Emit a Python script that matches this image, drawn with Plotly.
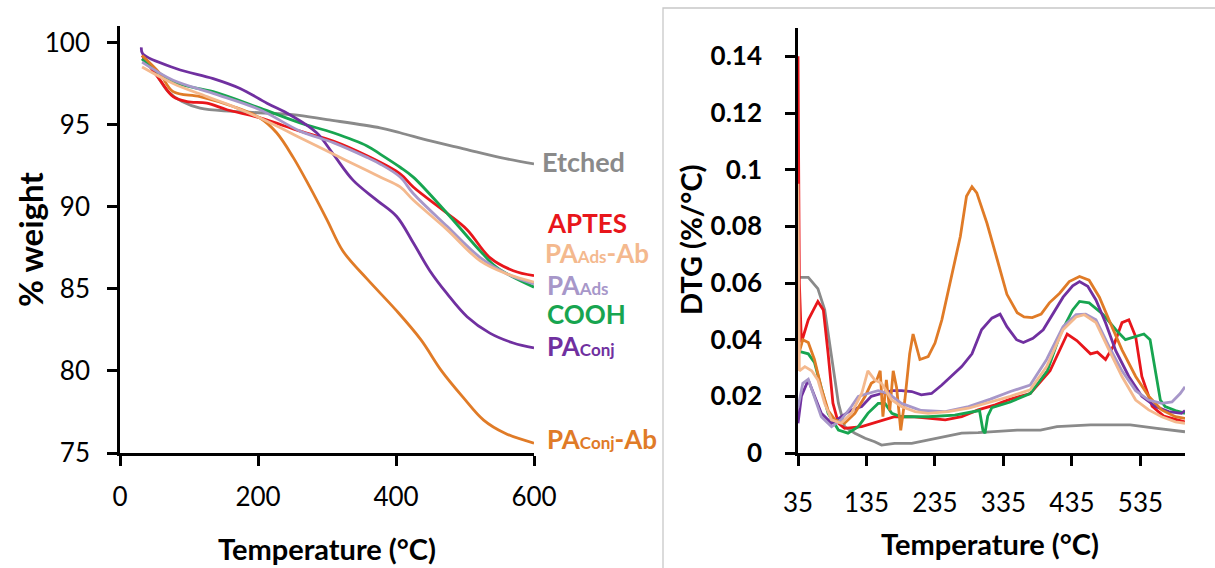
import plotly.graph_objects as go

W, H = 1215, 568
FONT = "Lato"

# ---------------- TGA (% weight vs temperature) ----------------
tga_etched_t = [32, 50, 70, 90, 116, 164, 250, 300, 377, 406, 450, 500, 550, 600]
tga_etched_w = [99.0, 98.2, 97.0, 96.4, 96.0, 95.8, 95.6, 95.3, 94.8, 94.5, 94.0, 93.5, 93.0, 92.6]

tga_aptes_t = [32, 58, 77, 97, 126, 155, 203, 261, 309, 358, 406, 425, 474, 503, 536, 570, 600]
tga_aptes_w = [99.2, 97.7, 96.7, 96.4, 96.3, 95.9, 95.4, 94.6, 94.0, 93.1, 92.0, 91.2, 89.6, 88.6, 86.9, 86.1, 85.8]

tga_cooh_t = [32, 77, 135, 203, 261, 309, 358, 377, 406, 425, 474, 522, 546, 600]
tga_cooh_w = [99.0, 97.6, 97.0, 96.0, 95.1, 94.5, 93.7, 93.2, 92.4, 91.8, 89.6, 87.3, 86.3, 85.1]

tga_paads_t = [32, 77, 135, 203, 261, 309, 358, 377, 406, 425, 474, 522, 561, 600]
tga_paads_w = [98.8, 97.7, 96.9, 95.9, 94.6, 93.9, 93.0, 92.6, 91.8, 90.8, 88.8, 86.9, 85.9, 85.3]

tga_paadsab_t = [32, 77, 126, 164, 213, 261, 309, 358, 377, 406, 425, 474, 522, 561, 600]
tga_paadsab_w = [98.5, 97.5, 96.7, 96.1, 95.2, 94.2, 93.2, 92.2, 91.8, 91.2, 90.4, 88.6, 86.7, 85.9, 85.4]

tga_paconj_t = [31, 33, 82, 135, 174, 213, 246, 285, 309, 338, 372, 401, 425, 449, 474, 503, 536, 570, 600]
tga_paconj_w = [99.7, 99.3, 98.4, 97.8, 97.2, 96.3, 95.6, 94.5, 93.2, 91.6, 90.4, 89.4, 87.8, 86.1, 84.7, 83.3, 82.3, 81.7, 81.4]

tga_paconjab_t = [32, 58, 77, 116, 164, 203, 227, 251, 275, 300, 323, 358, 400, 436, 466, 497, 527, 558, 600]
tga_paconjab_w = [99.2, 98.1, 97.0, 96.7, 96.1, 95.4, 94.5, 93.0, 91.2, 89.2, 87.3, 85.6, 83.7, 81.9, 80.0, 78.4, 77.0, 76.2, 75.6]

# ---------------- DTG (%/°C vs temperature) ----------------
dtg_etched_t = [35, 50, 64, 74, 84, 94, 103, 118, 133, 147, 157, 176, 201, 225, 250, 274, 298, 323,
                355, 389, 413, 462, 520, 559, 600]
dtg_etched_v = [0.062, 0.062, 0.058, 0.0505, 0.034, 0.0176, 0.0093, 0.007, 0.0052, 0.004, 0.0028, 0.0034,
                0.0034, 0.0046, 0.0058, 0.007, 0.0072, 0.0075, 0.0081, 0.0081, 0.0093, 0.0099, 0.0099,
                0.0087, 0.0075]

dtg_aptes_t = [35, 37, 40, 50, 64, 72, 79, 86, 94, 103, 128, 152, 176, 201, 225, 250, 274, 298, 323, 345,
               374, 403, 428, 442, 462, 472, 484, 496, 508, 518, 528, 537, 552, 569, 589, 600]
dtg_aptes_v = [0.14, 0.06, 0.039, 0.047, 0.0535, 0.0505, 0.035, 0.0176, 0.0105, 0.0087, 0.0093, 0.011,
               0.0128, 0.0128, 0.0122, 0.0117, 0.0128, 0.0152, 0.017, 0.019, 0.021, 0.029, 0.042, 0.0397,
               0.035, 0.0356, 0.033, 0.038, 0.046, 0.047, 0.041, 0.027, 0.0165, 0.013, 0.0117, 0.011]

dtg_cooh_t = [35, 50, 59, 69, 79, 94, 108, 123, 137, 152, 162, 172, 186, 225, 264, 300, 305, 308, 312,
              318, 345, 374, 399, 418, 436, 446, 460, 480, 499, 513, 528, 540, 549, 557, 564, 571, 586, 600]
dtg_cooh_v = [0.036, 0.035, 0.032, 0.023, 0.014, 0.0081, 0.007, 0.0093, 0.014, 0.0175, 0.0175, 0.014,
              0.0128, 0.0128, 0.0134, 0.015, 0.008, 0.007, 0.013, 0.016, 0.018, 0.021, 0.029, 0.042,
              0.0505, 0.0535, 0.053, 0.049, 0.0435, 0.040, 0.041, 0.042, 0.040, 0.029, 0.0187, 0.0164,
              0.015, 0.014]

dtg_paconj_t = [35, 40, 50, 59, 69, 84, 98, 113, 128, 142, 157, 172, 186, 201, 215, 230, 245, 259, 274,
                289, 303, 318, 330, 340, 354, 364, 378, 393, 407, 422, 436, 446, 458, 470, 484, 499, 518,
                537, 557, 576, 595, 600]
dtg_paconj_v = [0.0105, 0.020, 0.0258, 0.020, 0.014, 0.0105, 0.0128, 0.0152, 0.0164, 0.020, 0.021, 0.022,
                0.022, 0.0217, 0.0205, 0.021, 0.024, 0.027, 0.0305, 0.035, 0.0435, 0.0476, 0.049, 0.0446,
                0.040, 0.039, 0.0405, 0.0435, 0.049, 0.055, 0.059, 0.0605, 0.0588, 0.054, 0.046, 0.036,
                0.027, 0.020, 0.0164, 0.0146, 0.014, 0.015]

dtg_paconjab_t = [35, 42, 50, 59, 69, 79, 89, 103, 118, 133, 142, 150, 155, 159, 164, 169, 174, 179, 185,
                  191, 198, 203, 208, 213, 225, 235, 245, 257, 272, 281, 289, 296, 311, 325, 340, 355, 365,
                  377, 390, 402, 417, 431, 446, 460, 475, 489, 508, 528, 547, 566, 586, 600]
dtg_paconjab_v = [0.034, 0.040, 0.039, 0.033, 0.023, 0.015, 0.0117, 0.0105, 0.014, 0.020, 0.0246, 0.0258,
                  0.029, 0.0128, 0.0258, 0.015, 0.029, 0.023, 0.008, 0.0187, 0.035, 0.042, 0.0375, 0.033,
                  0.034, 0.0388, 0.047, 0.060, 0.0764, 0.0906, 0.094, 0.0918, 0.081, 0.069, 0.056, 0.0495,
                  0.048, 0.0478, 0.049, 0.053, 0.0564, 0.0605, 0.0623, 0.061, 0.055, 0.047, 0.0364, 0.027,
                  0.020, 0.0152, 0.0128, 0.0122]

dtg_paads_t = [35, 42, 50, 59, 69, 84, 98, 113, 123, 137, 152, 167, 186, 215, 250, 284, 316, 345, 374,
               398, 422, 441, 455, 470, 489, 508, 528, 547, 566, 581, 593, 600]
dtg_paads_v = [0.016, 0.0246, 0.026, 0.020, 0.0128, 0.0093, 0.0117, 0.0164, 0.020, 0.021, 0.022, 0.021,
               0.0175, 0.015, 0.0146, 0.0164, 0.019, 0.0217, 0.024, 0.033, 0.0446, 0.0488, 0.049, 0.047,
               0.0376, 0.029, 0.022, 0.0187, 0.0175, 0.018, 0.021, 0.0234]

dtg_paadsab_t = [35, 37, 45, 55, 64, 74, 84, 98, 113, 128, 137, 147, 157, 172, 186, 206, 225, 254, 284,
                 316, 345, 374, 398, 422, 441, 453, 470, 489, 508, 528, 547, 566, 586, 600]
dtg_paadsab_v = [0.095, 0.029, 0.0305, 0.029, 0.0258, 0.0175, 0.0117, 0.0105, 0.014, 0.021, 0.029, 0.0258,
                 0.0246, 0.0187, 0.0164, 0.0146, 0.014, 0.0146, 0.0158, 0.018, 0.020, 0.0223, 0.0305,
                 0.0435, 0.048, 0.0488, 0.046, 0.0364, 0.027, 0.0187, 0.0152, 0.0128, 0.011, 0.0105]

# Series styling: name, colour, TGA arrays, DTG arrays
C_GRAY, C_RED, C_GREEN = "#8a8a8a", "#E8161B", "#17A550"
C_PURPLE, C_ORANGE = "#7030A0", "#E07B27"
C_LPURPLE, C_LORANGE = "#A797C9", "#F4B98E"

series = [
    ("Etched", C_GRAY, tga_etched_t, tga_etched_w, dtg_etched_t, dtg_etched_v),
    ("APTES", C_RED, tga_aptes_t, tga_aptes_w, dtg_aptes_t, dtg_aptes_v),
    ("COOH", C_GREEN, tga_cooh_t, tga_cooh_w, dtg_cooh_t, dtg_cooh_v),
    ("PAConj", C_PURPLE, tga_paconj_t, tga_paconj_w, dtg_paconj_t, dtg_paconj_v),
    ("PAConj-Ab", C_ORANGE, tga_paconjab_t, tga_paconjab_w, dtg_paconjab_t, dtg_paconjab_v),
    ("PAAds", C_LPURPLE, tga_paads_t, tga_paads_w, dtg_paads_t, dtg_paads_v),
    ("PAAds-Ab", C_LORANGE, tga_paadsab_t, tga_paadsab_w, dtg_paadsab_t, dtg_paadsab_v),
]

fig = go.Figure()
for name, col, tt, tw, dt, dv in series:
    fig.add_trace(go.Scatter(x=tt, y=tw, mode="lines", name=name, xaxis="x", yaxis="y",
                             line=dict(color=col, width=2.8, shape="spline", smoothing=1.0),
                             showlegend=False))
for name, col, tt, tw, dt, dv in series:
    fig.add_trace(go.Scatter(x=dt, y=dv, mode="lines", name=name, xaxis="x2", yaxis="y2",
                             line=dict(color=col, width=2.8), showlegend=False))


def px_x(p):
    return p / W


def px_y(p):
    return 1 - p / H


axis_common = dict(showgrid=False, zeroline=False, showline=True, linecolor="black", linewidth=2.6,
                   ticks="outside", ticklen=10, tickwidth=2.6, tickcolor="black", automargin=False)

fig.update_layout(
    width=W, height=H,
    margin=dict(l=0, r=0, t=0, b=0),
    paper_bgcolor="white", plot_bgcolor="white",
    font=dict(family=FONT, color="black"),
    xaxis=dict(domain=[px_x(120), px_x(534)], range=[0, 600], tickvals=[0, 200, 400, 600],
               anchor="y", tickfont=dict(size=26, family=FONT), ticklabelstandoff=9, **axis_common),
    yaxis=dict(domain=[px_y(453), px_y(26)], range=[75, 101], tickvals=[75, 80, 85, 90, 95, 100],
               anchor="x", tickfont=dict(size=26, family=FONT), ticklabelstandoff=12, **axis_common),
    xaxis2=dict(domain=[px_x(798), px_x(1185)], range=[35, 600], tickvals=[35, 135, 235, 335, 435, 535],
                anchor="y2", tickfont=dict(size=26, family=FONT), ticklabelstandoff=15, **axis_common),
    yaxis2=dict(domain=[px_y(453), px_y(28)], range=[0, 0.15],
                tickvals=[0, 0.02, 0.04, 0.06, 0.08, 0.1, 0.12, 0.14],
                ticktext=["<b>0</b>", "<b>0.02</b>", "<b>0.04</b>", "<b>0.06</b>", "<b>0.08</b>",
                          "<b>0.1</b>", "<b>0.12</b>", "<b>0.14</b>"],
                anchor="x2", tickfont=dict(size=26, family=FONT), ticklabelstandoff=18, **axis_common),
)

# Frame around the DTG panel
fig.add_shape(type="rect", xref="paper", yref="paper", x0=px_x(663), x1=1.05, y0=-0.05, y1=px_y(8),
              line=dict(color="#c8c8c8", width=1.3), fillcolor="rgba(0,0,0,0)", layer="below")

annotations = []


def add_text(text, x, y, size, color="black", xanchor="center", angle=0, height=None):
    ann = dict(text=text, x=px_x(x), y=px_y(y), xref="paper", yref="paper",
               xanchor=xanchor, yanchor="middle", showarrow=False, textangle=angle,
               font=dict(size=size, color=color, family=FONT))
    if height is not None:
        ann["height"] = height
    annotations.append(ann)


# Axis titles
add_text("<b>% weight</b>", 30, 240, 33, angle=-90)
add_text("<b>Temperature (°C)</b>", 327, 548, 29)
add_text("<b>DTG (%/°C)</b>", 690, 240, 29, angle=-90)
add_text("<b>Temperature (°C)</b>", 990, 543, 29)

# Curve labels beside the TGA end points
SUB = "<span style='font-size:17px'>{}</span>"
add_text("<b>Etched</b>", 540, 162, 27, C_GRAY, "left")
add_text("<b>APTES</b>", 545, 222, 26, C_RED, "left", height=27)
add_text("<b>PA" + SUB.format("Ads") + "-Ab</b>", 543, 252, 26, C_LORANGE, "left", height=27)
add_text("<b>PA" + SUB.format("Ads") + "</b>", 545, 284, 26, C_LPURPLE, "left", height=27)
add_text("<b>COOH</b>", 545, 313, 26, C_GREEN, "left", height=27)
add_text("<b>PA" + SUB.format("Conj") + "</b>", 545, 346, 26, C_PURPLE, "left")
add_text("<b>PA" + SUB.format("Conj") + "-Ab</b>", 545, 439, 26, C_ORANGE, "left")

fig.update_layout(annotations=annotations)

fig.write_html("out.html")
